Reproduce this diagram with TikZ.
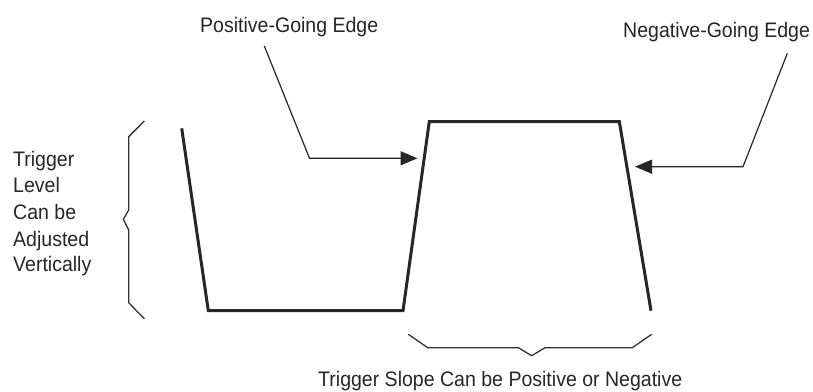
\documentclass[tikz,border=0pt]{standalone}
\usepackage{fontspec}
\setmainfont[FakeStretch=0.93]{Liberation Sans}
\usetikzlibrary{arrows.meta}
\begin{document}
\begin{tikzpicture}[x=1pt,y=-1pt,
  lbl/.style={inner sep=0pt,anchor=base west,font=\fontsize{21}{25}\selectfont,text=black!85},
  wave/.style={line width=3pt,line join=miter,black!85},
  thin/.style={line width=1.2pt,black!85},
  brc/.style={line width=1.3pt,black!80},
  tip/.style={-{Triangle[length=17pt,width=14pt]}}]
\useasboundingbox (0,0) rectangle (813,391);
% waveform
\draw[wave] (181.7,128.3) -- (208.3,310.7) -- (403,310.7) -- (429.3,121.5) -- (619.3,121.5) -- (651,310.7);
% labels
\node[lbl] (pos) at (200,32.3) {Positive-Going Edge};
\node[lbl] (neg) at (623,37.3) {Negative-Going Edge};
\node[lbl] (slope) at (318,386.7) {Trigger Slope Can be Positive or Negative};
\node[lbl] (l1) at (13,166.1) {Trigger};
\node[lbl] (l2) at (13,192.7) {Level};
\node[lbl] (l3) at (13,219.3) {Can be};
\node[lbl] (l4) at (13,246) {Adjusted};
\node[lbl] (l5) at (13,271.7) {Vertically};
% leaders
\coordinate (p0) at (264.3,46);
\coordinate (p1) at (309.5,158.3);
\coordinate (p2) at (417.5,158.3);
\draw[thin,tip] (p0) -- (p1) -- (p2);
\coordinate (n0) at (787.3,53.3);
\coordinate (n1) at (743,166.7);
\coordinate (n2) at (635,166.7);
\draw[thin,tip] (n0) -- (n1) -- (n2);
% left brace
\draw[brc] (144.3,121) -- (128.7,136.7) -- (128.7,210) -- (123.3,219.3) -- (128.7,230) -- (128.7,302.7) -- (144.3,318.7);
% bottom brace
\draw[brc] (408.3,334.3) -- (427.7,347.7) -- (518.3,347.7) -- (531.7,355.7) -- (545,347.7) -- (632.3,347.7) -- (651.7,334.3);
\end{tikzpicture}
\end{document}
